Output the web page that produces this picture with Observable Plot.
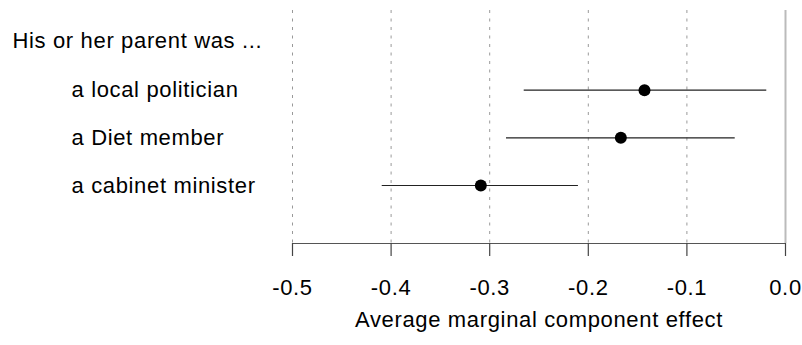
<!DOCTYPE html>
<html>
<head>
<meta charset="utf-8">
<script src="https://cdn.jsdelivr.net/npm/d3@7"></script>
<script src="https://cdn.jsdelivr.net/npm/@observablehq/plot@0.6"></script>
<style>
  html, body { margin: 0; padding: 0; background: #fff; }
  #chart svg { display: block; }
</style>
</head>
<body>
<div id="chart"></div>
<script>
const header = "His or her parent was ...";
const categories = ["a local politician", "a Diet member", "a cabinet minister"];
const estimates = [-0.143, -0.167, -0.309];
const lower = [-0.265, -0.283, -0.409];
const upper = [-0.019, -0.051, -0.210];
const xTicks = [-0.5, -0.4, -0.3, -0.2, -0.1, 0.0];
const gridTicks = [-0.5, -0.4, -0.3, -0.2, -0.1];
const xLabel = "Average marginal component effect";

const rows = categories.map((c, i) => ({
  label: c, row: i + 1, est: estimates[i], lo: lower[i], hi: upper[i]
}));

const yTop = -0.67, yBottom = 4.216;
const font = "'Liberation Sans', Arial, Helvetica, sans-serif";
const fs = 22;

const chart = Plot.plot({
  width: 802,
  height: 345,
  marginLeft: 292,
  marginRight: 17,
  marginTop: 10,
  marginBottom: 102,
  style: { fontFamily: font, fontSize: fs + "px", letterSpacing: "0.65px", color: "#000", background: "#fff" },
  x: { domain: [-0.5, 0], axis: null },
  y: { domain: [yBottom, yTop], axis: null },
  marks: [
    Plot.ruleX(gridTicks, { stroke: "#999", strokeWidth: 1, strokeDasharray: "3,5.5" }),
    Plot.ruleX([0], { stroke: "#bbb", strokeWidth: 2 }),
    Plot.ruleY([yBottom], { x1: xTicks[0], x2: xTicks[xTicks.length - 1], stroke: "#555", strokeWidth: 1.2 }),
    Plot.axisX({ ticks: xTicks, tickSize: 13, tickPadding: 23, tickFormat: d => d.toFixed(1),
      fontSize: fs, stroke: "#444", strokeWidth: 1.2, label: null }),
    Plot.text([xLabel], { frameAnchor: "bottom", dy: 83, fontSize: fs, fill: "#000" }),
    Plot.text([header], { y: () => 0, frameAnchor: "left", dx: -280, dy: -1.7, textAnchor: "start", fontSize: fs, fill: "#000" }),
    Plot.text(rows, { y: "row", text: "label", frameAnchor: "left", dx: -221, textAnchor: "start", fontSize: fs, fill: "#000" }),
    Plot.ruleY(rows, { y: "row", x1: "lo", x2: "hi", stroke: "#222", strokeWidth: 1.2 }),
    Plot.dot(rows, { y: "row", x: "est", r: 6, fill: "#000", stroke: "none" })
  ]
});
document.getElementById("chart").appendChild(chart);
</script>
</body>
</html>
